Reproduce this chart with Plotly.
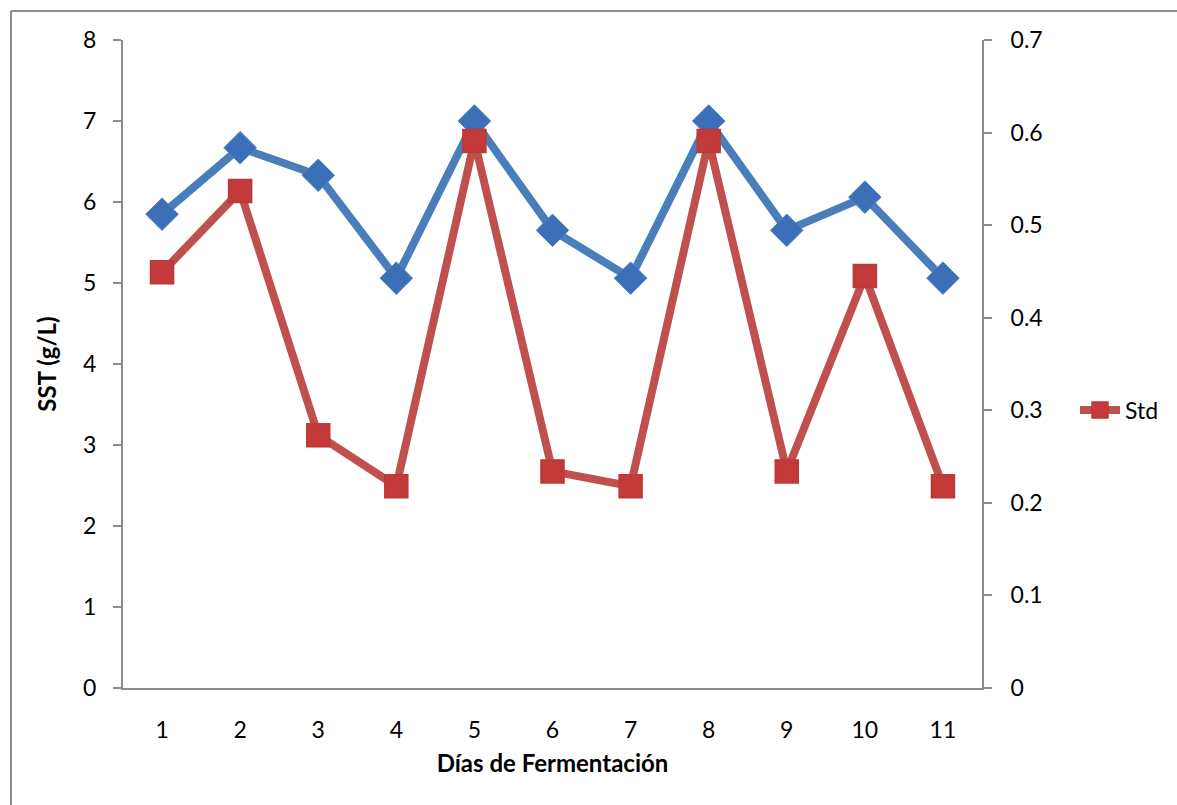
import plotly.graph_objects as go

# Días de fermentación y valores medidos
dias = [1, 2, 3, 4, 5, 6, 7, 8, 9, 10, 11]
sst = [5.85, 6.67, 6.33, 5.06, 7.0, 5.65, 5.06, 7.0, 5.65, 6.06, 5.06]
std = [0.449, 0.537, 0.273, 0.218, 0.591, 0.234, 0.218, 0.591, 0.234, 0.445, 0.218]

left_ticks = [0, 1, 2, 3, 4, 5, 6, 7, 8]
right_ticks = [0, 0.1, 0.2, 0.3, 0.4, 0.5, 0.6, 0.7]

FONT = "Lato"
AXIS_GRAY = "#8c8c8c"

W, H = 1177, 805
ML, MR, MT, MB = 123, 195, 40, 117
PW, PH = W - ML - MR, H - MT - MB

fig = go.Figure()

fig.add_trace(go.Scatter(
    x=dias, y=sst, mode="lines+markers", name="SST",
    line=dict(color="#4A7EBB", width=8),
    marker=dict(symbol="diamond", size=25, color="#3B6FB7",
                line=dict(color="#4A7EBB", width=1)),
    showlegend=False,
))

fig.add_trace(go.Scatter(
    x=dias, y=std, mode="lines+markers", name="Std", yaxis="y2",
    line=dict(color="#C0504D", width=8),
    marker=dict(symbol="square", size=23, color="#C4393A",
                line=dict(color="#B83A38", width=1.5)),
))

fig.update_layout(
    width=W, height=H,
    margin=dict(l=ML, r=MR, t=MT, b=MB),
    paper_bgcolor="white", plot_bgcolor="white",
    font=dict(family=FONT, size=23, color="black"),
    xaxis=dict(
        range=[0.5, 11.5], tickmode="array", tickvals=dias,
        ticktext=[str(d) for d in dias], showgrid=False, zeroline=False,
        showline=True, linecolor=AXIS_GRAY, linewidth=2, ticks="",
        ticklabelstandoff=20,
        title=dict(text="<b>Días de Fermentación</b>", font=dict(size=24), standoff=14),
    ),
    yaxis=dict(
        range=[0, 8], tickvals=left_ticks, showgrid=False, zeroline=False,
        showline=True, linecolor=AXIS_GRAY, linewidth=2,
        ticks="outside", ticklen=8, tickcolor=AXIS_GRAY, tickwidth=2,
        ticklabelstandoff=12,
        title=dict(text="<b>SST (g/L)</b>", font=dict(size=24), standoff=20),
    ),
    yaxis2=dict(
        range=[0, 0.7], tickvals=right_ticks,
        ticktext=["0", "0.1", "0.2", "0.3", "0.4", "0.5", "0.6", "0.7"],
        overlaying="y", side="right", showgrid=False, zeroline=False,
        showline=True, linecolor=AXIS_GRAY, linewidth=2,
        ticks="outside", ticklen=8, tickcolor=AXIS_GRAY, tickwidth=2,
        ticklabelstandoff=14,
    ),
    legend=dict(x=(1075 - ML) / PW, y=(688 - 410) / PH, xanchor="left", yanchor="middle",
                bgcolor="rgba(0,0,0,0)", font=dict(size=23), itemwidth=40),
)

# Marco exterior del gráfico (bordes superior e izquierdo)
x_left = (11 - ML) / PW
y_top = (H - MB - 11) / PH
fig.add_shape(type="line", xref="paper", yref="paper",
              x0=x_left, x1=(W - ML) / PW + 0.05, y0=y_top, y1=y_top,
              line=dict(color=AXIS_GRAY, width=2))
fig.add_shape(type="line", xref="paper", yref="paper",
              x0=x_left, x1=x_left, y0=y_top, y1=-MB / PH - 0.05,
              line=dict(color=AXIS_GRAY, width=2))

fig.write_html("out.html")
